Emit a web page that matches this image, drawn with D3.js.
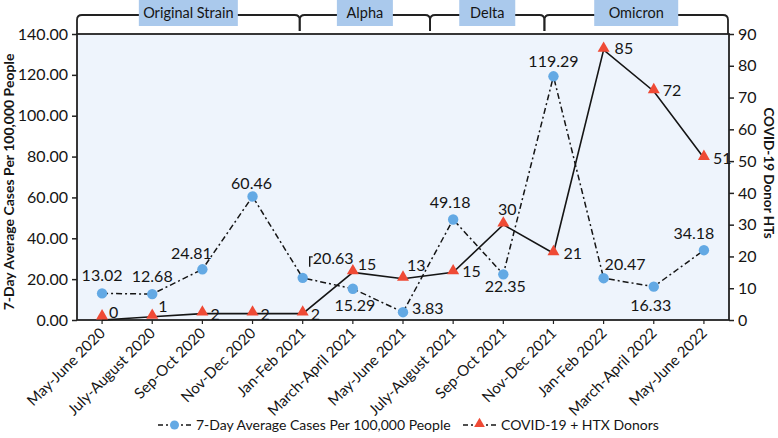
<!DOCTYPE html>
<html><head><meta charset="utf-8">
<script src="https://cdn.jsdelivr.net/npm/d3@7"></script>
<style>body{margin:0;background:#fff}svg{display:block;font-family:Lato,"Open Sans",sans-serif}</style>
</head><body><svg id="c" width="778" height="438"></svg>
<script>
const categories = ["May-June 2020","July-August 2020","Sep-Oct 2020","Nov-Dec 2020","Jan-Feb 2021","March-April 2021","May-June 2021","July-August 2021","Sep-Oct 2021","Nov-Dec 2021","Jan-Feb 2022","March-April 2022","May-June 2022"];
const cases = [13.02,12.68,24.81,60.46,20.63,15.29,3.83,49.18,22.35,119.29,20.47,16.33,34.18];
const donors = [0,1,2,2,2,15,13,15,30,21,85,72,51];
const leftTicks = [0,20,40,60,80,100,120,140];
const rightTicks = [0,10,20,30,40,50,60,70,80,90];
const eraNames = ["Original Strain","Alpha","Delta","Omicron"];
const eraBounds = [-0.5, 3.94, 6.54, 8.82, 12.48];
const seriesNames = ["7-Day Average Cases Per 100,000 People","COVID-19 + HTX Donors"];

// layout: label offsets from markers [dx, dy, anchor]; era label box widths
const caseLabelPos = [[0,-18,"middle"],[0,-18,"middle"],[-11,-16,"middle"],[-1,-13,"middle"],[10,-19,"start"],[2,17,"middle"],[9,-4,"start"],[-3,-17,"middle"],[2,12,"middle"],[0,-15,"middle"],[1,-14,"start"],[-3,19,"middle"],[-10,-17,"middle"]];
const donorLabelPos = [[7,-8,"start"],[6,-10,"start"],[8,1,"start"],[8,1,"start"],[8,1,"start"],[5,-8,"start"],[4,-13,"start"],[9,-1,"start"],[4,-15,"middle"],[10,0,"start"],[11,-1,"start"],[9,-1,"start"],[9,0,"start"]];
const eraBoxW = [99,56,56,84];

const L=77, R=729, T=34, B=320;
const svg = d3.select("#c");
const blue="#63a9e4", red="#ef4a35", ink="#151515";

const xi = d3.scaleLinear().domain([-0.5, categories.length-0.5]).range([L,R]);
const yL = d3.scaleLinear().domain([0,140]).range([B,T]);
const yR = d3.scaleLinear().domain([0,90]).range([B,T]);

svg.append("rect").attr("x",L).attr("y",T).attr("width",R-L).attr("height",B-T).attr("fill","#eef4fc");

// era brackets
const by=15, r=5;
eraNames.forEach((n,i)=>{
  const a=xi(eraBounds[i]), b=xi(eraBounds[i+1]);
  const ya = i===0?T:31, yb = i===eraNames.length-1?T:31;
  svg.append("path").attr("fill","none").attr("stroke","#222").attr("stroke-width",1.8)
    .attr("d",`M${a},${ya}V${by+r}Q${a},${by} ${a+r},${by}H${b-r}Q${b},${by} ${b},${by+r}V${yb}`);
});
eraNames.forEach((n,i)=>{
  const a=xi(eraBounds[i]), b=xi(eraBounds[i+1]), cx=(a+b)/2;
  svg.append("rect").attr("x",cx-eraBoxW[i]/2).attr("y",0).attr("width",eraBoxW[i]).attr("height",26).attr("fill","#aac9ec");
  svg.append("text").attr("x",cx).attr("y",18).attr("text-anchor","middle").attr("font-size",14.5).attr("fill",ink).text(n);
});

// axes
const axL = svg.append("g").attr("transform",`translate(${L},0)`).call(d3.axisLeft(yL).tickValues(leftTicks).tickFormat(d3.format(".2f")).tickSize(5));
const axR = svg.append("g").attr("transform",`translate(${R},0)`).call(d3.axisRight(yR).tickValues(rightTicks).tickSize(5));
[axL,axR].forEach(g=>{g.select(".domain").remove();g.selectAll("line").attr("stroke","#222").attr("stroke-width",1.5);g.selectAll("text").attr("font-size",16).attr("fill",ink).attr("font-family","Lato");});
axL.selectAll("text").attr("x",-9);
axR.selectAll("text").attr("x",9);
svg.append("rect").attr("x",L).attr("y",T).attr("width",R-L).attr("height",B-T).attr("fill","none").attr("stroke","#222").attr("stroke-width",1.8);

// x labels
const xg = svg.append("g");
categories.forEach((c,i)=>{
  xg.append("line").attr("x1",xi(i)).attr("x2",xi(i)).attr("y1",B).attr("y2",B+4).attr("stroke","#222").attr("stroke-width",1.2);
  xg.append("text").attr("transform",`translate(${xi(i)+4},${B+14}) rotate(-45)`).attr("text-anchor","end").attr("font-size",15).attr("fill",ink).text(c);
});

// axis titles
svg.append("text").attr("transform",`translate(14,${(T+B)/2+5}) rotate(-90)`).attr("text-anchor","middle").attr("font-size",14).attr("font-weight","bold").attr("fill",ink).text("7-Day Average Cases Per 100,000 People");
svg.append("text").attr("transform",`translate(764,${(T+B)/2-4}) rotate(90)`).attr("text-anchor","middle").attr("font-size",13.5).attr("font-weight","bold").attr("fill",ink).text("COVID-19 Donor HTs");

// lines
svg.append("path").datum(cases).attr("fill","none").attr("stroke",ink).attr("stroke-width",1.5).attr("stroke-dasharray","6,3,2,3")
  .attr("d",d3.line().x((d,i)=>xi(i)).y(d=>yL(d)));
svg.append("path").datum(donors).attr("fill","none").attr("stroke",ink).attr("stroke-width",1.6)
  .attr("d",d3.line().x((d,i)=>xi(i)).y(d=>yR(d)));

// markers
const tri = d3.symbol().type(d3.symbolTriangle).size(62);
svg.append("g").selectAll("circle").data(cases).join("circle").attr("cx",(d,i)=>xi(i)).attr("cy",d=>yL(d)).attr("r",5.2).attr("fill",blue);
svg.append("g").selectAll("path").data(donors).join("path").attr("d",tri).attr("fill",red)
  .attr("transform",(d,i)=>`translate(${xi(i)},${Math.min(yR(d)-1.5,B-4)})`);

// data labels
svg.append("g").selectAll("text").data(cases).join("text")
  .attr("x",(d,i)=>xi(i)+caseLabelPos[i][0]).attr("y",(d,i)=>yL(d)+caseLabelPos[i][1]).attr("dy","0.35em")
  .attr("text-anchor",(d,i)=>caseLabelPos[i][2]).attr("font-size",16).attr("fill",ink).text(d=>d.toFixed(2));
// leader hook for 20.63
{
  const x0 = xi(4)+caseLabelPos[4][0]-3, y0 = yL(cases[4])+caseLabelPos[4][1];
  svg.append("path").attr("fill","none").attr("stroke",ink).attr("stroke-width",1.4)
    .attr("d",`M${x0},${y0+8}V${y0-2}H${x0+3}`);
}
svg.append("g").selectAll("text").data(donors).join("text")
  .attr("x",(d,i)=>xi(i)+donorLabelPos[i][0]).attr("y",(d,i)=>yR(d)+donorLabelPos[i][1]).attr("dy","0.35em")
  .attr("text-anchor",(d,i)=>donorLabelPos[i][2]).attr("font-size",16).attr("fill",ink).text(d=>d);

// legend
const lg = svg.append("g");
function legItem(x, shape, label){
  const y=425;
  const seg=(a,b)=>lg.append("line").attr("x1",x+a).attr("x2",x+b).attr("y1",y).attr("y2",y).attr("stroke",ink).attr("stroke-width",1.5);
  seg(0,5); seg(8,10); seg(23,25); seg(28,33);
  if(shape==="c") lg.append("circle").attr("cx",x+16.5).attr("cy",y).attr("r",4.5).attr("fill",blue);
  else lg.append("path").attr("d",d3.symbol().type(d3.symbolTriangle).size(50)).attr("transform",`translate(${x+16.5},${y-1})`).attr("fill",red);
  lg.append("text").attr("x",x+38).attr("y",y).attr("dy","0.35em").attr("font-size",14).attr("fill",ink).text(label);
}
legItem(158,"c",seriesNames[0]);
legItem(463,"t",seriesNames[1]);
</script></body></html>
